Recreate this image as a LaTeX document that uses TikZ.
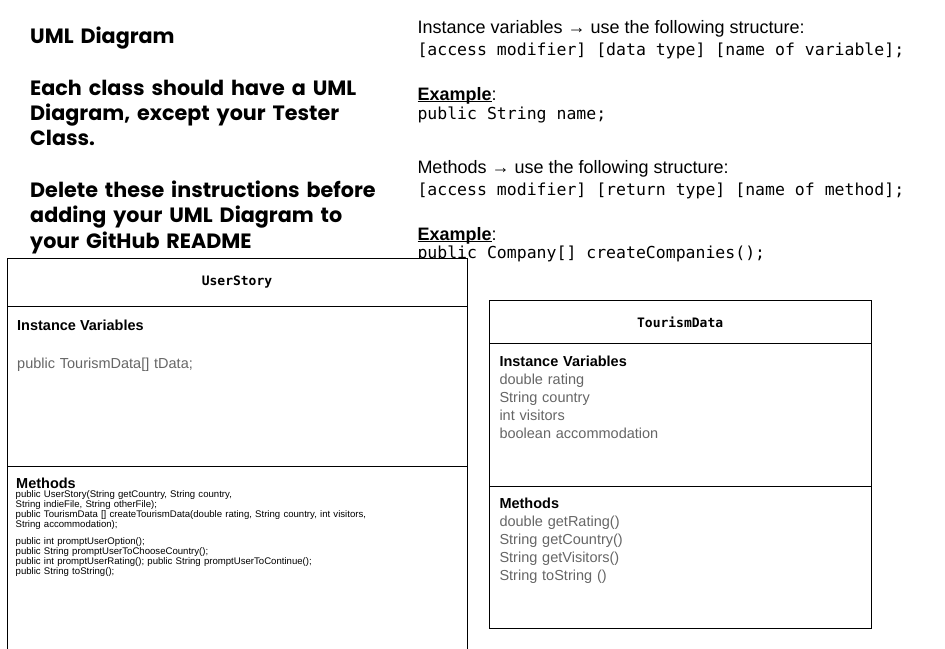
\documentclass[tikz,border=0pt]{standalone}
\usepackage{fontspec}
\setmainfont{Liberation Sans}
\setmonofont{DejaVu Sans Mono}
\newfontfamily\poppins{Poppins}
\usetikzlibrary{positioning}
\definecolor{vargray}{HTML}{666666}
\newcommand{\ulword}[1]{\setbox0\hbox{#1}\rlap{\rule[-2.3pt]{\wd0}{1.3pt}}\box0}
\setlength{\lineskiplimit}{-20pt}

\begin{document}
\begin{tikzpicture}[x=1pt,y=-1pt,
    txt/.style={inner sep=0pt, anchor=base west},
    bighead/.style={txt, text width=420pt, align=left, font=\poppins\bfseries\fontsize{20.7}{25.4}\selectfont},
    note/.style={txt, font=\fontsize{18}{21}\selectfont},
    code/.style={txt, font=\ttfamily\fontsize{16.5}{19}\selectfont},
    compart/.style={draw=black, fill=white, line width=1pt, inner sep=0pt, outer sep=0pt, font=\ttfamily\bfseries\fontsize{13}{15}\selectfont},
    parthead/.style={txt, font=\bfseries\fontsize{14.5}{18}\selectfont},
    members/.style={txt, text width=360pt, align=left, text=vargray, font=\fontsize{14.5}{18}\selectfont},
    tiny/.style={txt, text width=450pt, align=left, font=\fontsize{9.6}{8.4}\selectfont}]
      \path[use as bounding box, fill=white] (0,0) rectangle (945,648);
      % instructions
      \node[bighead] (umltitle) at (30,43.5) {UML Diagram};
      \node[bighead] (eachclass) at (30,95) {Each class should have a UML\\ Diagram, except your Tester\\ Class.};
      \node[bighead] (deletenote) at (30,197.3) {Delete these instructions before\\ adding your UML Diagram to\\ your GitHub README};
      \node[note] (varsrule) at (417.3,33.3) {Instance variables → use the following structure:};
      \node[code] (varsform) at (417.3,55) {[access modifier] [data type] [name of variable];};
      \node[note] (varsex) at (417.3,100) {\ulword{\bfseries Example}:};
      \node[code] (varscode) at (417.3,119) {public String name;};
      \node[note] (methrule) at (417.3,173.3) {Methods → use the following structure:};
      \node[code] (methform) at (417.3,195) {[access modifier] [return type] [name of method];};
      \node[note] (methex) at (417.3,240) {\ulword{\bfseries Example}:};
      \node[code] (methcode) at (417.3,258) {public Company[] createCompanies();};
      % UserStory
      \node[compart, anchor=north west, minimum width=460pt, minimum height=48.7pt] (ushead) at (7,258) {UserStory};
      \node[compart, below=0pt of ushead, minimum width=460pt, minimum height=160pt] (usvars) {};
      \node[compart, below=0pt of usvars, minimum width=460pt, minimum height=200pt] (usmeth) {};
      \node[parthead] (usvarshead) at ([xshift=10pt,yshift=-23.3pt]usvars.north west) {Instance Variables};
      \node[members] (usvarslist) at ([xshift=10pt,yshift=-61.6pt]usvars.north west) {public TourismData[] tData;};
      \node[parthead] (usmethhead) at ([xshift=9pt,yshift=-22pt]usmeth.north west) {Methods};
      \node[tiny] (usmethlist) at ([xshift=8.5pt,yshift=-31pt]usmeth.north west) {public UserStory(String getCountry, String country,\\ String indieFile, String otherFile);\\ public TourismData [] createTourismData(double rating, String country, int visitors,\\ String accommodation);\\ \mbox{}\\ public int promptUserOption();\\ public String promptUserToChooseCountry();\\ public int promptUserRating(); public String promptUserToContinue();\\ public String toString();};
      % TourismData
      \node[compart, anchor=north west, minimum width=381.7pt, minimum height=42.6pt] (tdhead) at (489.3,300.7) {TourismData};
      \node[compart, below=0pt of tdhead, minimum width=381.7pt, minimum height=143.4pt] (tdvars) {};
      \node[compart, below=0pt of tdvars, minimum width=381.7pt, minimum height=141.6pt] (tdmeth) {};
      \node[members] (tdvarslist) at ([xshift=10pt,yshift=-23.4pt]tdvars.north west) {{\color{black}\bfseries Instance Variables}\\ double rating\\ String country\\ int visitors\\ boolean accommodation};
      \node[members] (tdmethlist) at ([xshift=10pt,yshift=-21.6pt]tdmeth.north west) {{\color{black}\bfseries Methods}\\ double getRating()\\ String getCountry()\\ String getVisitors()\\ String toString ()};
    \end{tikzpicture}
\end{document}
